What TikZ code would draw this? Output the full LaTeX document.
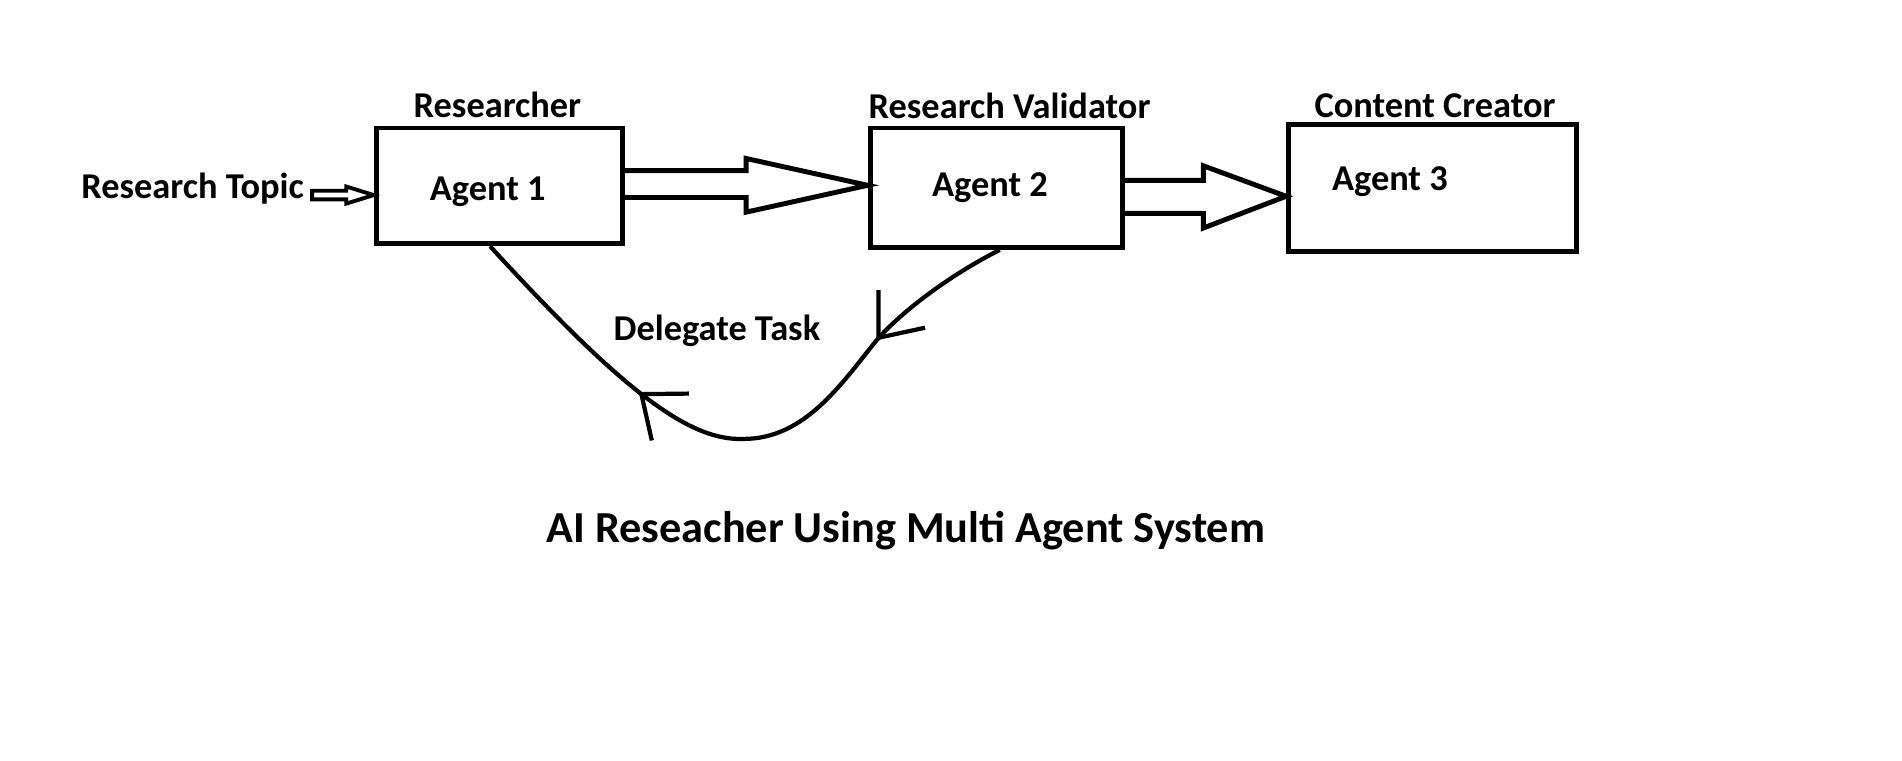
\documentclass[tikz,border=0pt]{standalone}
\usepackage{fontspec}
\setmainfont{Carlito}
\usetikzlibrary{arrows.meta,decorations.markings}

\begin{document}
\begin{tikzpicture}[x=0.01219cm,y=-0.01219cm,line width=1.4pt,
  agentbox/.style={draw,inner sep=0pt},
  txt/.style={inner sep=0pt,font=\bfseries\fontsize{10.35}{12}\selectfont},
  delegbarb/.tip={Straight Barb[length=10.5pt,width=17pt]},
  delegate/.style={line width=1.2pt,postaction={decorate},decoration={markings,
    mark=at position 0.236 with {\arrow{delegbarb}},
    mark=at position 0.68 with {\arrow{delegbarb}}}}]
\useasboundingbox (0,0) rectangle (1560,624);

\node[agentbox,minimum width=2.460cm,minimum height=1.158cm](a1) at (409.5,152.5){};
\node[agentbox,minimum width=2.520cm,minimum height=1.195cm](a2) at (817,154){};
\node[agentbox,minimum width=2.880cm,minimum height=1.270cm](a3) at (1175,154.5){};

\node[txt](lab1) at (408,86){Researcher};
\node[txt](lab2) at (828,87){Research Validator};
\node[txt](lab3) at (1177,87){Content Creator};

\node[txt](ag1) at (400,157){Agent 1};
\node[txt](ag2) at (812,154){Agent 2};
\node[txt](ag3) at (1140,149){Agent 3};

\node[txt](topic) at (158,155){Research Topic};
\draw[line width=1.1pt](256,156.5)--(284,156.5)--(284,153)--(a1.west |- 0,160)
  --(284,167)--(284,163.5)--(256,163.5)--cycle;

\draw(a1.east |- 0,140)--(612,140)--(612,130)--(a2.west |- 0,152)
  --(612,174)--(612,162)--(a1.east |- 0,162);
\draw(a2.east |- 0,148)--(987,148)--(987,136)--(a3.west |- 0,161)
  --(987,187)--(987,175)--(a2.east |- 0,175);

\draw[delegate](a2.south -| 820,0) .. controls (780,225) and (740,255) .. (719,279)
  .. controls (690,315) and (660,360) .. (610,360)
  .. controls (565,362) and (510,320) .. (a1.south -| 402,0);
\node[txt](deleg) at (588,271){Delegate Task};

\node[txt,font=\bfseries\fontsize{12.6}{15}\selectfont](title) at (743,435)
  {AI Reseacher Using Multi Agent System};

\end{tikzpicture}
\end{document}
